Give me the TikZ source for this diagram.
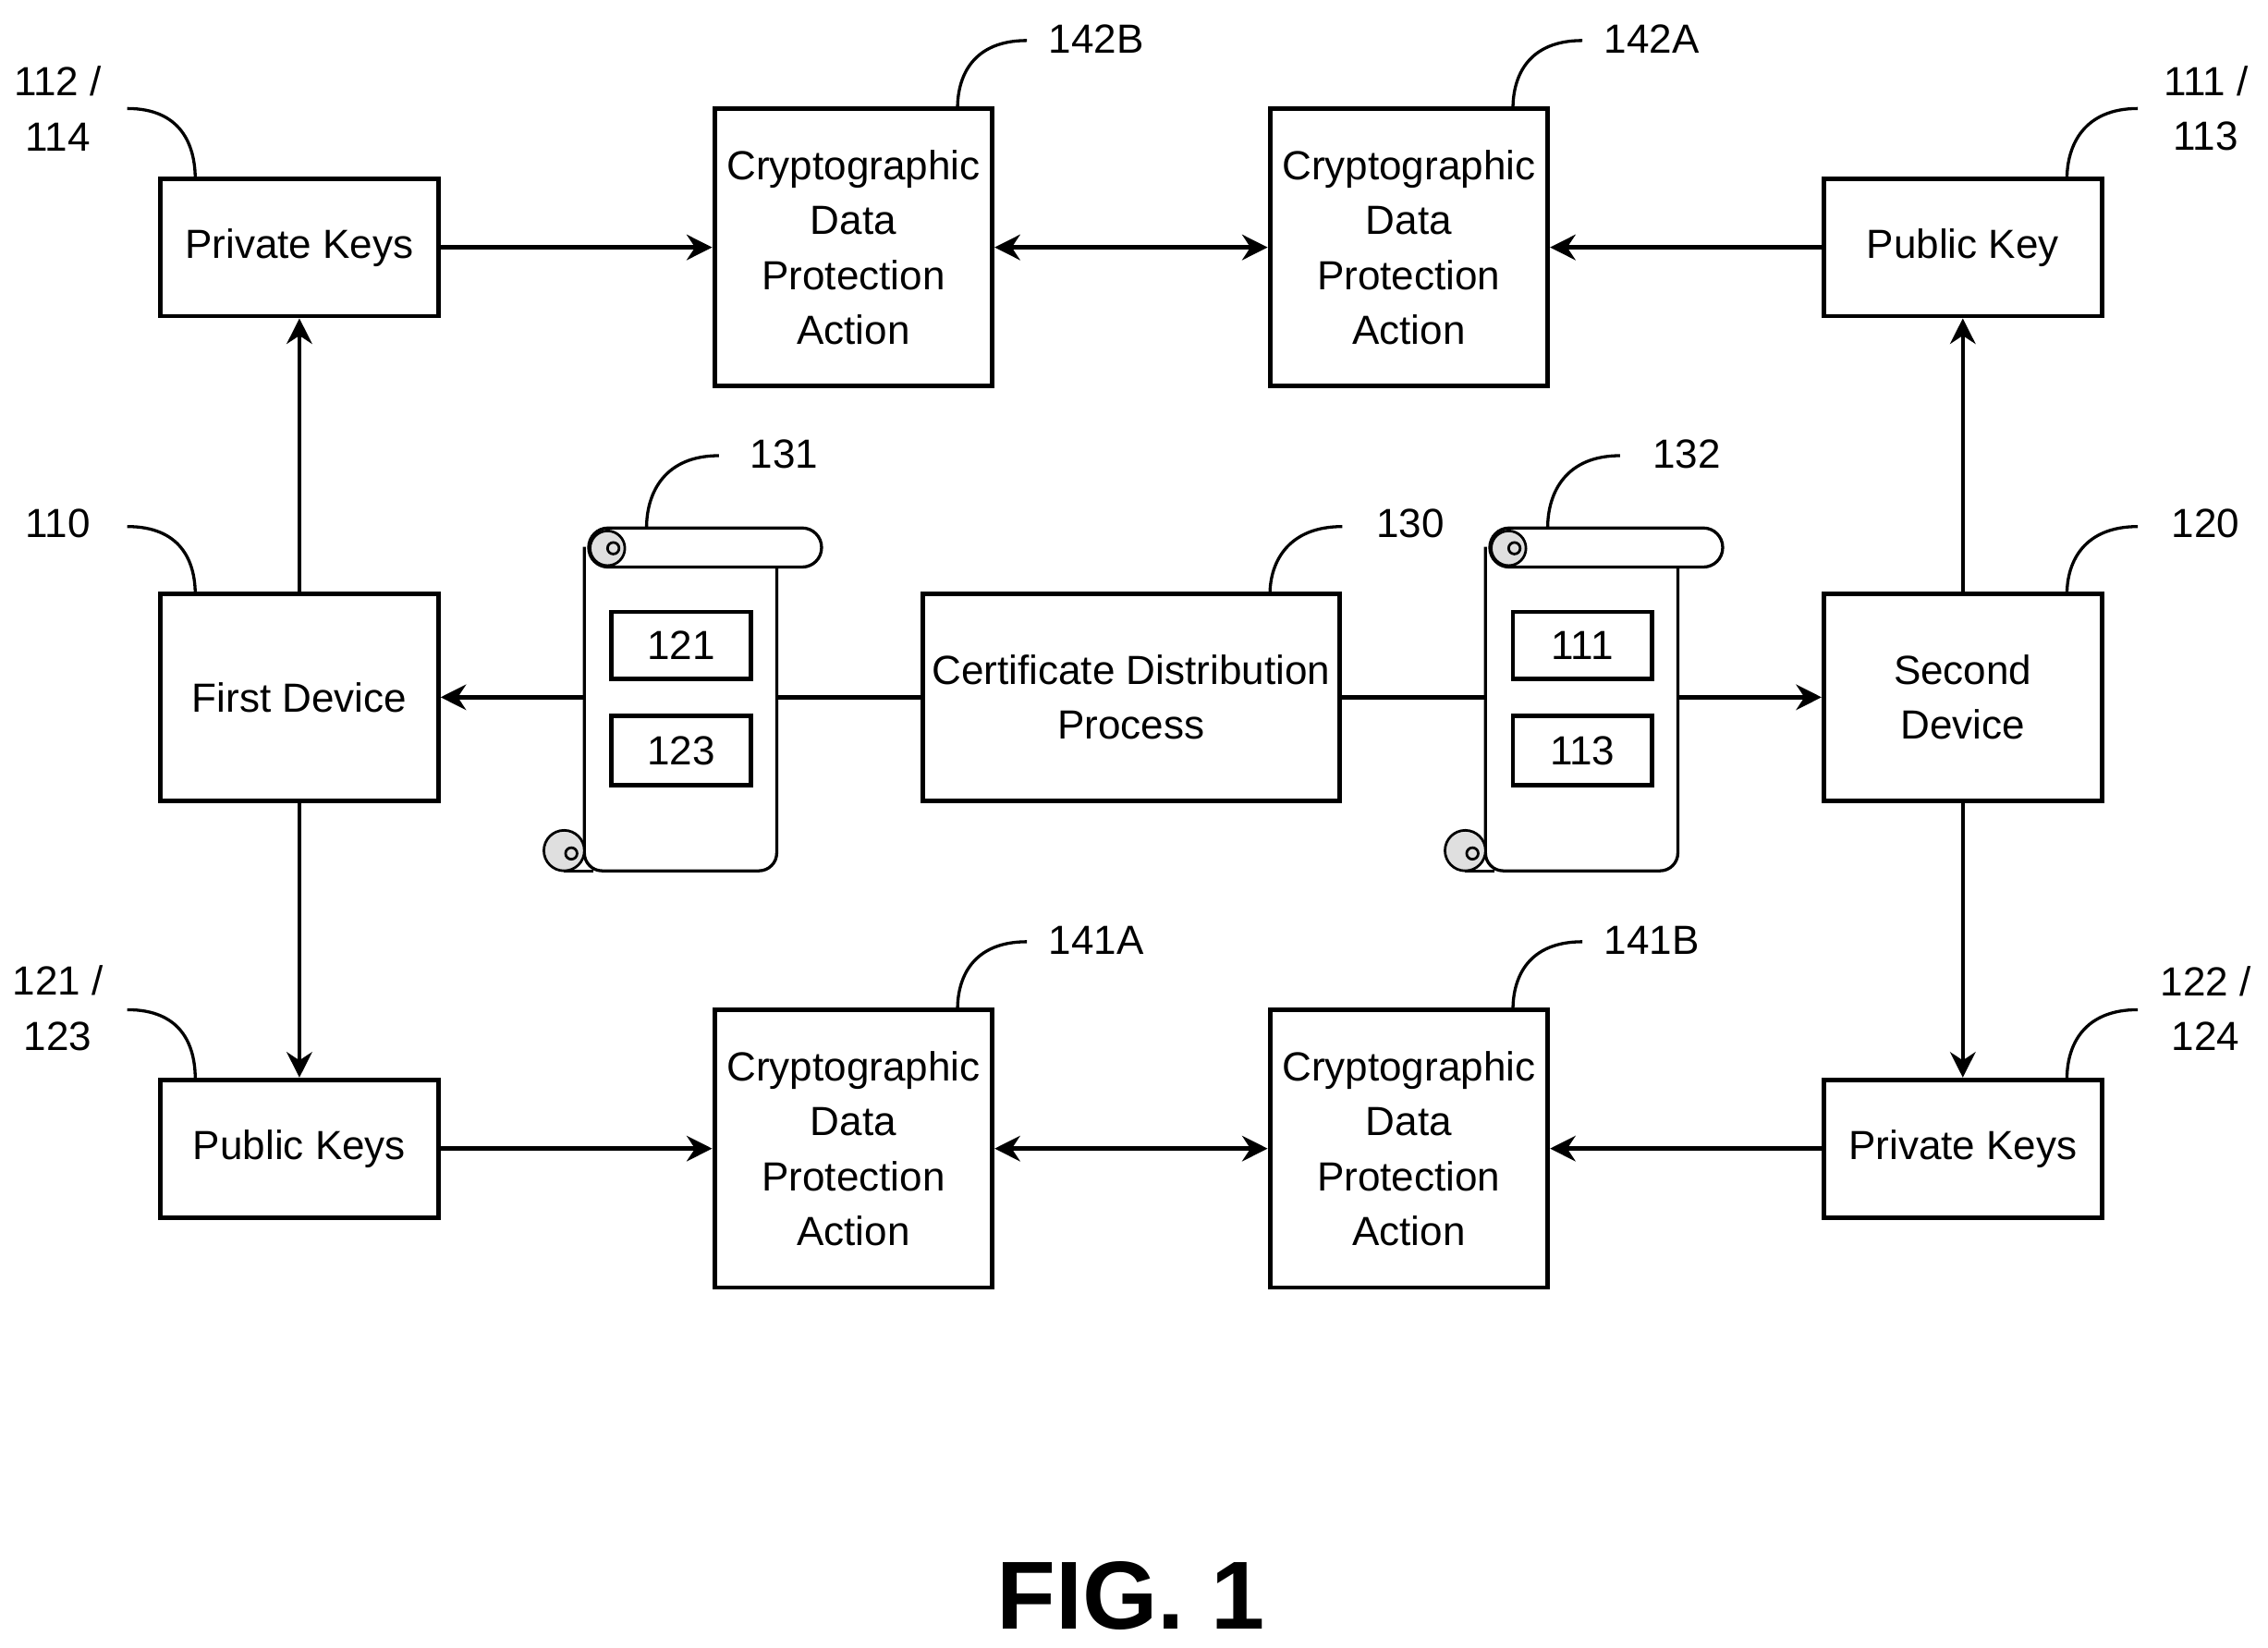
\documentclass[tikz,border=0pt]{standalone}
\usepackage{fontspec}
\setmainfont{Liberation Sans}
\usetikzlibrary{arrows.meta}
\begin{document}
\begin{tikzpicture}[x=0.01cm,y=-0.01cm,
  box/.style={draw,line width=0.9pt,fill=white,align=center,inner sep=0pt,font=\fontsize{8}{10.8}\selectfont},
  arr/.style={line width=0.8pt,-{Stealth[length=5pt,width=5pt]}},
  darr/.style={line width=0.8pt,{Stealth[length=5pt,width=5pt]}-{Stealth[length=5pt,width=5pt]}},
  lead/.style={line width=0.6pt},
  lbl/.style={font=\fontsize{8}{10.8}\selectfont,align=center},
  roll/.style={line width=0.5pt,fill=gray!25}]
\useasboundingbox (0,0) rectangle (1568,1139);
% boxes
\node[box,minimum width=1.92cm,minimum height=0.95cm] (pk1) at (207,171) {Private Keys};
\node[box,minimum width=1.92cm,minimum height=1.92cm] (c142b) at (590,171) {Cryptographic\\Data\\Protection\\Action};
\node[box,minimum width=1.92cm,minimum height=1.92cm] (c142a) at (974,171) {Cryptographic\\Data\\Protection\\Action};
\node[box,minimum width=1.92cm,minimum height=0.95cm] (pub2) at (1357,171) {Public Key};
\node[box,minimum width=1.92cm,minimum height=1.43cm] (dev1) at (207,482) {First Device};
\node[box,minimum width=2.88cm,minimum height=1.43cm] (cdp) at (782,482) {Certificate Distribution\\Process};
\node[box,minimum width=1.92cm,minimum height=1.43cm] (dev2) at (1357,482) {Second\\Device};
\node[box,minimum width=1.92cm,minimum height=0.95cm] (pub1) at (207,794) {Public Keys};
\node[box,minimum width=1.92cm,minimum height=1.92cm] (c141a) at (590,794) {Cryptographic\\Data\\Protection\\Action};
\node[box,minimum width=1.92cm,minimum height=1.92cm] (c141b) at (974,794) {Cryptographic\\Data\\Protection\\Action};
\node[box,minimum width=1.92cm,minimum height=0.95cm] (pk2) at (1357,794) {Private Keys};
% connectors
\draw[arr] (pk1) -- (c142b);
\draw[darr] (c142b) -- (c142a);
\draw[arr] (pub2) -- (c142a);
\draw[arr] (dev1) -- (pk1);
\draw[arr] (dev1) -- (pub1);
\draw[arr] (dev2) -- (pub2);
\draw[arr] (dev2) -- (pk2);
\draw[arr] (pub1) -- (c141a);
\draw[darr] (c141a) -- (c141b);
\draw[arr] (pk2) -- (c141b);
\draw[arr] (cdp) -- (dev1);
\draw[arr] (cdp) -- (dev2);
% scrolls
\foreach \dx/\na/\nb/\sa/\sb in {0/121/123/s1/s2, 623/111/113/s3/s4}{
\begin{scope}[shift={(\dx,0)}]
  \draw[line width=0.6pt,fill=white,rounded corners=3.5pt] (404,378) -- (404,602) -- (537,602) -- (537,385);
  \draw[line width=0.6pt] (390,602) -- (410,602);
  \draw[line width=0.6pt,fill=white,rounded corners=3.8pt] (407,365) rectangle (568,392);
  \draw[roll] (420,379) circle[radius=12];
  \draw[line width=0.5pt] (424,379) circle[radius=4];
  \draw[roll] (390,588) circle[radius=14];
  \draw[line width=0.5pt] (395,590) circle[radius=4];
  \node[box,minimum width=0.96cm,minimum height=0.46cm] (\sa) at (471,446) {\na};
  \node[box,minimum width=0.96cm,minimum height=0.48cm] (\sb) at (471,519) {\nb};
\end{scope}}
% labels
\foreach \tx/\ty/\t in {
  40/75/{112 /\\114}, 1525/75/{111 /\\113}, 758/27/142B, 1142/27/142A,
  40/362/110, 1525/362/120, 542/314/131, 1166/314/132, 975/362/130,
  758/650/141A, 1142/650/141B, 40/697/{121 /\\123}, 1525/697/{122 /\\124}}{
  \node[lbl] at (\tx,\ty) {\t};
}
\draw[lead] (88,75) .. controls (125,75) and (135,100) .. (135,124);
\draw[lead] (1478,75) .. controls (1441,75) and (1429,100) .. (1429,124);
\draw[lead] (710,28) .. controls (673,28) and (662,52) .. (662,75);
\draw[lead] (1094,28) .. controls (1057,28) and (1046,52) .. (1046,75);
\draw[lead] (88,364) .. controls (125,364) and (135,388) .. (135,411);
\draw[lead] (1478,364) .. controls (1441,364) and (1429,388) .. (1429,411);
\draw[lead] (497,315) .. controls (460,315) and (447,340) .. (447,365);
\draw[lead] (1120,315) .. controls (1083,315) and (1070,340) .. (1070,365);
\draw[lead] (928,364) .. controls (891,364) and (878,388) .. (878,411);
\draw[lead] (710,651) .. controls (673,651) and (662,675) .. (662,698);
\draw[lead] (1094,651) .. controls (1057,651) and (1046,675) .. (1046,698);
\draw[lead] (88,698) .. controls (125,698) and (135,722) .. (135,746);
\draw[lead] (1478,698) .. controls (1441,698) and (1429,722) .. (1429,746);
\node[font=\fontsize{19}{22}\bfseries\selectfont] (fig) at (782,1103) {FIG. 1};
\end{tikzpicture}
\end{document}
